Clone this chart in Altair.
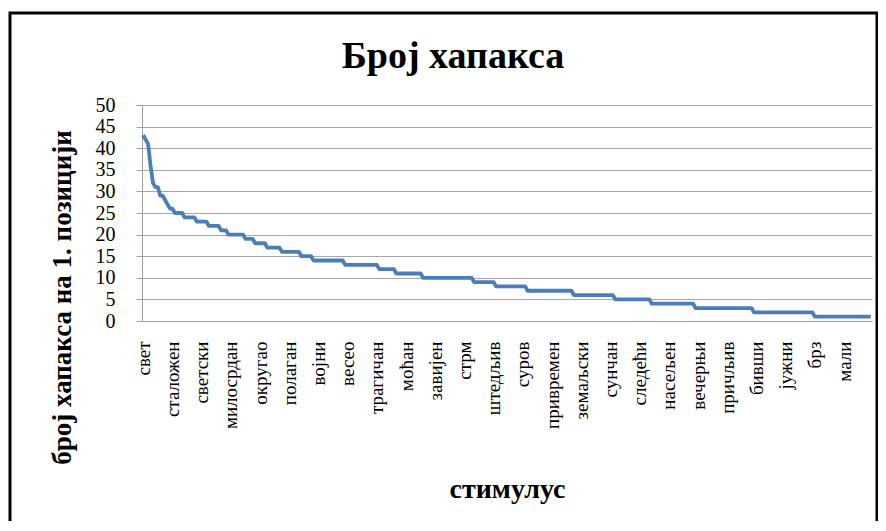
import json
import altair as alt
import pandas as pd

# --- data -----------------------------------------------------------------
# first 17 stimuli (steep head of the curve)
head_values = [43, 42, 41, 36, 32, 31, 31, 29, 29, 28, 27, 26, 26, 25, 25, 25, 25]
# remaining stimuli as plateaus: value and number of stimuli with that value
step_values = [24, 23, 22, 21, 20, 19, 18, 17, 16, 15, 14, 13, 12, 11, 10, 9, 8, 7, 6, 5, 4, 3, 2, 1]
step_counts = [5, 5, 5, 3, 7, 4, 5, 6, 8, 5, 13, 14, 7, 11, 21, 9, 13, 19, 17, 15, 18, 24, 25, 24]

# category labels shown on the axis (every 12th stimulus)
shown_labels = ["свет", "сталожен", "светски", "милосрдан", "округао", "полаган",
                "војни", "весео", "трагичан", "моћан", "завијен", "стрм",
                "штедљив", "суров", "привремен", "земаљски", "сунчан", "следећи",
                "насељен", "вечерњи", "причљив", "бивши", "јужни", "брз", "мали"]
label_step = 12
chart_title = "Број хапакса"

values = list(head_values)
for v, c in zip(step_values, step_counts):
    values.extend([v] * c)
n = len(values)

df = pd.DataFrame({"idx": list(range(n)), "value": values})

FONT = "Liberation Serif"
label_arr = json.dumps(shown_labels, ensure_ascii=False)

line = alt.Chart(df).mark_line(color="#4a7ebb", strokeWidth=3.8, strokeJoin="round").encode(
    x=alt.X("idx:Q",
            scale=alt.Scale(domain=[-0.5, n - 0.5], nice=False, zero=False),
            axis=alt.Axis(
                values=list(range(0, n, label_step)),
                labelExpr=f"{label_arr}[round(datum.value / {label_step})]",
                labelAngle=270,
                labelAlign="right",
                labelBaseline="middle",
                labelFont=FONT, labelFontSize=19, labelColor="black",
                labelPadding=20, labelOverlap=False, labelFlush=False, labelBound=False,
                ticks=False, grid=False,
                domainColor="#a0a0a0", domainWidth=1,
                title="стимулус", titleFont=FONT, titleFontSize=28, titleFontWeight="bold",
                titleColor="black", titleY=176, titleBaseline="alphabetic",
            )),
    y=alt.Y("value:Q",
            scale=alt.Scale(domain=[0, 50], nice=False),
            axis=alt.Axis(
                values=list(range(0, 51, 5)),
                labelFont=FONT, labelFontSize=20, labelColor="black",
                labelPadding=21,
                tickSize=6, tickColor="#a0a0a0",
                gridColor="#a6a6a6", gridWidth=1,
                domainColor="#a0a0a0",
                title="број хапакса на 1. позицији", titleFont=FONT, titleFontSize=27,
                titleFontWeight="bold", titleColor="black",
                titleX=-80, titleY=192, titleAngle=270, titleBaseline="middle",
                titleAlign="center",
            )),
)

frame = alt.Chart(pd.DataFrame({"a": [0]})).mark_rect(
    fill="transparent", stroke="black", strokeWidth=3
).encode(
    x=alt.value(-132), x2=alt.value(735), y=alt.value(-92), y2=alt.value(450)
)

title = alt.Chart(pd.DataFrame({"t": [chart_title]})).mark_text(
    font=FONT, fontSize=38, fontWeight="bold", color="black",
    align="center", baseline="alphabetic"
).encode(
    text="t:N", x=alt.value(311), y=alt.value(-37)
)

chart = alt.layer(frame, title, line).properties(
    width=730, height=216,
    autosize=alt.AutoSizeParams(type="none"),
    padding={"left": 134, "top": 97, "right": 6, "bottom": 200},
    background="white",
).configure_view(stroke=None)

chart.save("out.html", embed_options={"renderer": "svg", "actions": False})
